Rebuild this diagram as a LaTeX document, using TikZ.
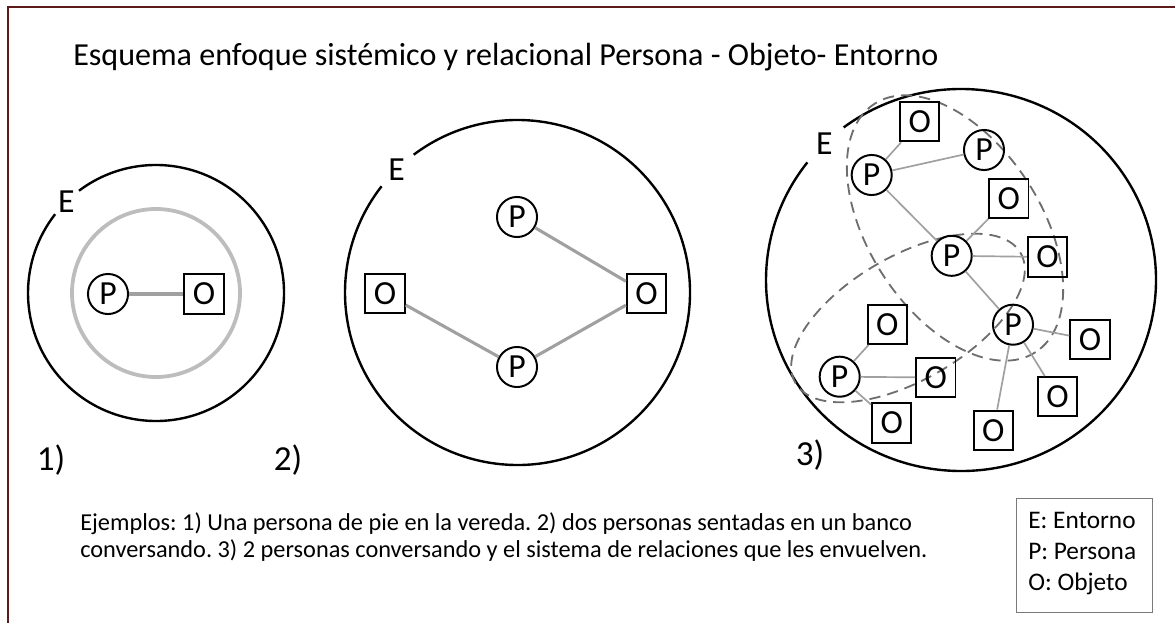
\documentclass[tikz,border=0pt]{standalone}
\usepackage{fontspec}
\setmainfont{Carlito}
\usepackage{tikz}
\frenchspacing

\definecolor{bordo}{HTML}{5C1A1A}
\definecolor{grisclaro}{HTML}{BDBDBD}
\definecolor{grislinea}{HTML}{A0A0A0}
\definecolor{grisdash}{HTML}{6E6E6E}
\definecolor{grismarco}{HTML}{7A7A7A}

\tikzset{
    pers/.style={circle,draw,line width=1.4pt,minimum size=28.5pt,inner sep=0pt,font=\fontsize{24}{24}\selectfont},
    obj/.style={rectangle,draw,line width=1.4pt,minimum size=28pt,inner sep=0pt,font=\fontsize{24}{24}\selectfont},
    enlace/.style={draw=grislinea,line width=2.2pt},
    enlacefino/.style={draw=grislinea,line width=1.2pt},
    grupo/.style={draw=grisdash,line width=1.3pt,dash pattern=on 8pt off 5pt},
    entorno/.style={line width=1.7pt},
    etiqueta/.style={font=\fontsize{24}{24}\selectfont,inner sep=0pt},
    numero/.style={font=\fontsize{25}{25}\selectfont,inner sep=0pt},
}

\begin{document}
\begin{tikzpicture}[x=0.025cm,y=-0.025cm]
    \useasboundingbox (0,0) rectangle (1175,623);
    \draw[color=bordo,line width=1.6pt] (8,623) -- (8,7) -- (1175,7);

    \node[anchor=west,inner sep=0pt,font=\fontsize{22.8}{26}\selectfont] (titulo) at (73,57)
        {Esquema enfoque sistémico y relacional Persona - Objeto- Entorno};

    % 1) persona y objeto
    \coordinate (c1) at (156,293);
    \draw[entorno] (c1) ++(-127:128) arc[start angle=-127, end angle=218, radius=128];
    \path (c1) ++(-134.5:128) node[etiqueta] (e1) {E};
    \draw[color=grisclaro,line width=2.7pt] (c1) circle (84);
    \node[pers] (p1) at (108,294) {P};
    \node[obj] (o1) at (204,294) {O};
    \draw[enlace] (p1) -- (o1);
    \node[numero] (n1) at (51,460) {1)};

    % 2) dos personas
    \coordinate (c2) at (517.5,292.5);
    \draw[entorno] (c2) ++(-127:172.5) arc[start angle=-127, end angle=218, radius=172.5];
    \path (c2) ++(-134.5:172.5) node[etiqueta] (e2) {E};
    \node[pers] (p2a) at (517,217) {P};
    \node[pers] (p2b) at (517,367) {P};
    \node[obj] (o2a) at (385,293.5) {O};
    \node[obj] (o2b) at (646.5,293.5) {O};
    \draw[enlace] (p2a) -- (o2b);
    \draw[enlace] (o2a) -- (p2b);
    \draw[enlace] (p2b) -- (o2b);
    \node[numero] (n2) at (288,460) {2)};

    % 3) sistema de relaciones
    \coordinate (c3) at (961,280);
    \draw[entorno] (c3) ++(-127:195 and 191) arc[start angle=-127, end angle=218, x radius=195, y radius=191];
    \path (c3) ++(-134.5:195 and 191) node[etiqueta] (e3) {E};
    \draw[grupo,rotate around={-57:(955,228)}] (955,228) ellipse [x radius=148, y radius=86];
    \draw[grupo,rotate around={30:(908,318)}] (908,318) ellipse [x radius=130, y radius=62];

    \node[pers] (p3a) at (871.7,175) {P};
    \node[pers] (p3b) at (984,150) {P};
    \node[pers] (p3c) at (951.7,255.8) {P};
    \node[pers] (p3d) at (1013,324.7) {P};
    \node[pers] (p3e) at (839.7,376.7) {P};
    \node[obj] (o3a) at (919.7,121.7) {O};
    \node[obj] (o3b) at (1008.8,198.3) {O};
    \node[obj] (o3c) at (1047.5,257) {O};
    \node[obj] (o3d) at (1090,339.7) {O};
    \node[obj] (o3e) at (887.3,324.3) {O};
    \node[obj] (o3f) at (935.8,377.5) {O};
    \node[obj] (o3g) at (891.7,423) {O};
    \node[obj] (o3h) at (1057.5,396.7) {O};
    \node[obj] (o3i) at (993.3,430.3) {O};

    \draw[enlacefino] (p3a) -- (o3a);
    \draw[enlacefino] (p3a) -- (p3b);
    \draw[enlacefino] (p3a) -- (p3c);
    \draw[enlacefino] (p3c) -- (o3b);
    \draw[enlacefino] (p3c) -- (o3c);
    \draw[enlacefino] (p3c) -- (p3d);
    \draw[enlacefino] (p3d) -- (o3d);
    \draw[enlacefino] (p3d) -- (o3h);
    \draw[enlacefino] (p3d) -- (o3i);
    \draw[enlacefino] (p3e) -- (o3e);
    \draw[enlacefino] (p3e) -- (o3f);
    \draw[enlacefino] (p3e) -- (o3g);
    \node[numero] (n3) at (810,455) {3)};

    % texto y leyenda
    \node[anchor=west,inner sep=0pt,align=left,font=\fontsize{17.3}{19.8}\selectfont] (ejemplos) at (80,537)
        {Ejemplos: 1) Una persona de pie en la vereda. 2) dos personas sentadas en un banco\\
         conversando. 3) 2 personas conversando y el sistema de relaciones que les envuelven.};
    \node[draw=grismarco,line width=0.8pt,minimum width=97pt,minimum height=81.5pt] (leyenda) at (1084.5,555.5) {};
    \node[anchor=west,inner sep=0pt,align=left,font=\fontsize{18}{22}\selectfont] (claves) at (1028,553.5)
        {E: Entorno\\P: Persona\\O: Objeto};
\end{tikzpicture}
\end{document}
